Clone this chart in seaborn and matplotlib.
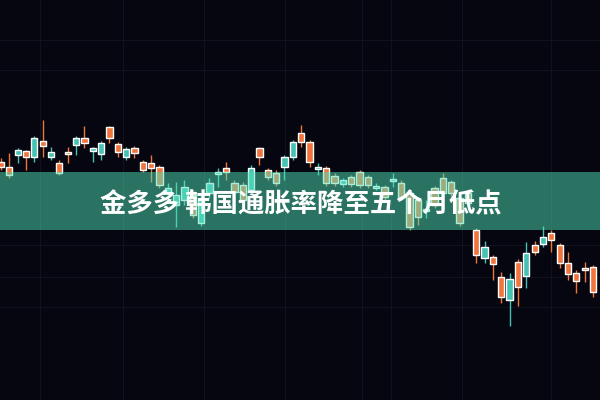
import matplotlib
matplotlib.use("Agg")
import numpy as np
import pandas as pd
import matplotlib.pyplot as plt
import seaborn as sns

# candle values (price units, higher = up)
opens = [238, 233, 245, 249, 243, 259, 243, 237, 248, 255, 262, 249, 246, 273, 256, 243, 252, 238,
         237, 233, 207, 195, 200, 205, 177, 207, 226, 232, 217, 215, 210, 252, 230, 227, 233, 243,
         267, 258, 231, 232, 224, 216, 223, 228, 223, 212, 213, 219, 217, 207, 200, 189, 212, 222,
         218, 202, 207, 170, 142, 143, 123, 100, 138, 124, 155, 156, 167, 155, 137, 127, 132, 133]
closes = [233, 225, 250, 243, 262, 254, 248, 227, 246, 262, 257, 252, 257, 262, 248, 251, 247, 230,
          232, 215, 212, 205, 213, 185, 200, 217, 228, 228, 208, 200, 232, 243, 223, 217, 243, 258,
          258, 238, 233, 217, 217, 220, 216, 215, 215, 214, 203, 221, 203, 173, 183, 191, 195, 207,
          207, 177, 197, 145, 153, 136, 103, 121, 113, 147, 148, 163, 160, 137, 126, 119, 130, 108]
highs = [242, 247, 252, 250, 264, 280, 253, 240, 253, 264, 274, 253, 259, 274, 258, 253, 254, 240,
         245, 235, 217, 218, 220, 210, 205, 222, 232, 238, 220, 218, 235, 253, 232, 230, 245, 260,
         275, 260, 237, 234, 227, 222, 225, 230, 225, 217, 215, 227, 220, 210, 203, 200, 214, 227,
         220, 205, 210, 172, 159, 145, 128, 127, 141, 158, 159, 174, 170, 157, 148, 130, 138, 135]
lows = [230, 222, 237, 230, 238, 243, 240, 225, 237, 245, 252, 238, 240, 257, 243, 240, 242, 228,
        218, 212, 204, 173, 195, 182, 174, 202, 213, 220, 205, 197, 207, 235, 220, 214, 220, 240,
        253, 233, 225, 214, 214, 213, 213, 212, 212, 210, 200, 213, 200, 170, 175, 182, 192, 202,
        204, 174, 194, 137, 137, 120, 97, 74, 94, 112, 145, 153, 148, 132, 120, 107, 118, 103]

title = "金多多 韩国通胀率降至五个月低点"

df = pd.DataFrame({"open": opens, "close": closes, "high": highs, "low": lows})
df["day"] = np.arange(len(df))
df["up"] = df["close"] > df["open"]

orange = "#f0743c"
teal = "#45c2b3"
bg = "#05060f"

sns.set_style("dark", {"axes.facecolor": bg, "figure.facecolor": bg})
plt.rcParams["font.family"] = ["Noto Sans CJK SC", "DejaVu Sans"]

fig = plt.figure(figsize=(6, 4), dpi=100)
ax = fig.add_axes([0, 0, 1, 1])
ax.set_facecolor(bg)

# very faint grid
for gx in [4.7, 14.6, 24.3, 34.1, 43.3, 46.8, 55.3, 66.0]:
    ax.axvline(gx, color="#10131e", lw=0.8, zorder=0)
for gy in [360, 330, 155, 123, 93]:
    ax.axhline(gy, color="#10131e", lw=0.8, zorder=0)

colors = [teal if u else orange for u in df["up"]]
ax.vlines(df["day"], df["low"], df["high"], colors=colors, lw=1.0, zorder=2)
body_lo = df[["open", "close"]].min(axis=1)
body_h = (df["open"] - df["close"]).abs().clip(lower=1.5)
ax.bar(df["day"], body_h, bottom=body_lo, width=0.75, color=colors, zorder=3)

# green title band
ax.axhspan(170, 228, color="#4fe0b8", alpha=0.5, lw=0, zorder=4)
ax.text(36.0, 195, title, color="white", fontsize=19, fontweight="heavy",
        ha="center", va="center", zorder=5)

ax.set_xlim(-0.12, 71.84)
ax.set_ylim(0, 400)
ax.set_xticks([])
ax.set_yticks([])
for s in ax.spines.values():
    s.set_visible(False)

fig.savefig("out.png", dpi=100, facecolor=bg)
